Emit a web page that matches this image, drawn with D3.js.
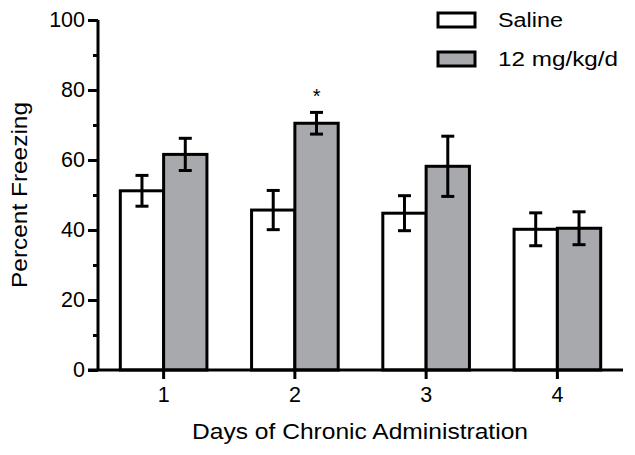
<!DOCTYPE html>
<html>
<head>
<meta charset="utf-8">
<script src="https://cdn.jsdelivr.net/npm/d3@7/dist/d3.min.js"></script>
<style>
  html, body { margin: 0; padding: 0; background: #fff; }
  svg { display: block; font-family: "Liberation Sans", Arial, Helvetica, sans-serif; }
</style>
</head>
<body>
<svg id="chart" width="635" height="455"></svg>
<script>
// ---- data ----
const days = ["1", "2", "3", "4"];
const seriesNames = ["Saline", "12 mg/kg/d"];
const salineMeans = [51.2, 45.7, 44.8, 40.2];
const salineErr   = [4.4, 5.6, 5.0, 4.7];
const drugMeans   = [61.6, 70.5, 58.2, 40.5];
const drugErr     = [4.6, 3.1, 8.6, 4.7];
const significant = ["", "*", "", ""]; // marker above 12 mg/kg/d bar
const yTicks = [0, 20, 40, 60, 80, 100];
const yMinorTicks = [10, 30, 50, 70, 90];
const xTitle = "Days of Chronic Administration";
const yTitle = "Percent Freezing";

// ---- build ----
const fills = ["#ffffff", "#a8a9ad"];
const rows = [];
days.forEach((d, i) => {
  rows.push({ day: d, series: seriesNames[0], mean: salineMeans[i], err: salineErr[i], mark: "" });
  rows.push({ day: d, series: seriesNames[1], mean: drugMeans[i], err: drugErr[i], mark: significant[i] });
});

const svg = d3.select("#chart");
const x = d3.scaleBand().domain(days).range([98, 623]).paddingInner(0.34).paddingOuter(0.17);
const xs = d3.scaleBand().domain(seriesNames).range([0, x.bandwidth()]);
const y = d3.scaleLinear().domain([0, 100]).range([370, 20]);
const color = d3.scaleOrdinal().domain(seriesNames).range(fills);

// bars
const g = svg.append("g");
g.selectAll("rect.bar").data(rows).join("rect")
  .attr("class", "bar")
  .attr("x", d => x(d.day) + xs(d.series))
  .attr("y", d => y(d.mean))
  .attr("width", xs.bandwidth())
  .attr("height", d => y(0) - y(d.mean))
  .attr("fill", d => color(d.series))
  .attr("stroke", "#000")
  .attr("stroke-width", 3);

// error bars
const capW = 13;
const eb = g.selectAll("g.err").data(rows).join("g").attr("class", "err")
  .attr("transform", d => `translate(${x(d.day) + xs(d.series) + xs.bandwidth() / 2},0)`);
eb.append("line").attr("x1", 0).attr("x2", 0)
  .attr("y1", d => y(d.mean + d.err)).attr("y2", d => y(d.mean - d.err))
  .attr("stroke", "#000").attr("stroke-width", 3);
eb.append("line").attr("x1", -capW / 2).attr("x2", capW / 2)
  .attr("y1", d => y(d.mean + d.err)).attr("y2", d => y(d.mean + d.err))
  .attr("stroke", "#000").attr("stroke-width", 3);
eb.append("line").attr("x1", -capW / 2).attr("x2", capW / 2)
  .attr("y1", d => y(d.mean - d.err)).attr("y2", d => y(d.mean - d.err))
  .attr("stroke", "#000").attr("stroke-width", 3);
eb.filter(d => d.mark).append("text")
  .attr("x", 0).attr("y", d => y(d.mean + d.err) - 9)
  .attr("text-anchor", "middle").attr("font-size", 20)
  .text(d => d.mark);

// y axis
const yAxis = svg.append("g").attr("transform", "translate(98,0)")
  .call(d3.axisLeft(y).tickValues(yTicks).tickSize(10).tickPadding(3).tickFormat(d3.format("d")));
yAxis.selectAll(".tick line").attr("stroke-width", 3);
yAxis.select(".domain").attr("stroke-width", 3).attr("d", `M0,${y(100)}V${y(0)}`);
yAxis.selectAll(".tick text").attr("font-size", 21.5).attr("fill", "#000").attr("font-family", "Liberation Sans, Arial, sans-serif");
const yMinor = svg.append("g").attr("transform", "translate(98,0)")
  .call(d3.axisLeft(y).tickValues(yMinorTicks).tickSize(5).tickFormat(""));
yMinor.select(".domain").remove();
yMinor.selectAll(".tick line").attr("stroke-width", 3);

// x axis
const xAxis = svg.append("g").attr("transform", `translate(0,${y(0)})`)
  .call(d3.axisBottom(x).tickSize(9).tickPadding(8));
xAxis.select(".domain").attr("stroke-width", 3).attr("d", "M88,0H623");
xAxis.selectAll(".tick line").attr("stroke-width", 3);
xAxis.selectAll(".tick text").attr("font-size", 21.5).attr("fill", "#000").attr("font-family", "Liberation Sans, Arial, sans-serif");

// axis titles
svg.append("text").attr("x", 360).attr("y", 439).attr("text-anchor", "middle")
  .attr("font-size", 22).attr("textLength", 336).attr("lengthAdjust", "spacingAndGlyphs")
  .text(xTitle);
svg.append("text").attr("transform", "translate(27,195) rotate(-90)").attr("text-anchor", "middle")
  .attr("font-size", 22).attr("textLength", 186).attr("lengthAdjust", "spacingAndGlyphs")
  .text(yTitle);

// legend
const legendLen = [65, 120];
const leg = svg.append("g").selectAll("g").data(seriesNames).join("g")
  .attr("transform", (d, i) => `translate(438,${13 + i * 39})`);
leg.append("rect").attr("width", 37).attr("height", 14)
  .attr("fill", d => color(d)).attr("stroke", "#000").attr("stroke-width", 3);
leg.append("text").attr("x", 60).attr("y", 14).attr("font-size", 19.5)
  .attr("textLength", (d, i) => legendLen[i]).attr("lengthAdjust", "spacingAndGlyphs")
  .text(d => d);
</script>
</body>
</html>
